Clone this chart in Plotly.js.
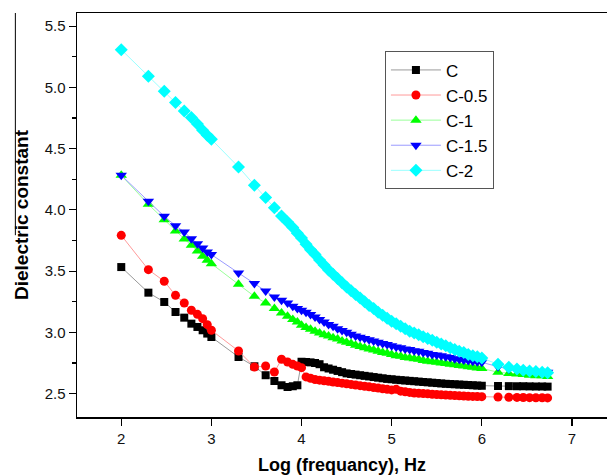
<!DOCTYPE html>
<html>
<head>
<meta charset="utf-8">
<script src="https://cdn.plot.ly/plotly-3.0.1.min.js"></script>
<style>
html,body{margin:0;padding:0;background:#fff;overflow:hidden;}
#chart{width:607px;height:475px;}
</style>
</head>
<body>
<div id="chart"></div>
<script>
// Log (frequency) values shared by all series
const logFreq = [
  2.000, 2.301, 2.477, 2.602, 2.699, 2.778, 2.845, 2.903, 2.954, 3.000,
  3.301, 3.477, 3.602, 3.699, 3.778, 3.845, 3.903, 3.954, 4.000,
  4.05, 4.10, 4.15, 4.20, 4.25, 4.30, 4.35, 4.40, 4.45, 4.50,
  4.55, 4.60, 4.65, 4.70, 4.75, 4.80, 4.85, 4.90, 4.95, 5.00,
  5.05, 5.10, 5.15, 5.20, 5.25, 5.30, 5.35, 5.40, 5.45, 5.50,
  5.55, 5.60, 5.65, 5.70, 5.75, 5.80, 5.85, 5.90, 5.95, 6.00,
  6.18, 6.30, 6.39, 6.46, 6.53, 6.60, 6.67, 6.73
];

const seriesNames = ["C", "C-0.5", "C-1", "C-1.5", "C-2"];

const valC = [
  3.533, 3.324, 3.248, 3.166, 3.120, 3.071, 3.044, 3.017, 2.990, 2.962,
  2.799, 2.723, 2.650, 2.603, 2.568, 2.554, 2.560, 2.568, 2.760,
  2.758, 2.755, 2.750, 2.740, 2.715, 2.705, 2.695, 2.685, 2.675, 2.665,
  2.660, 2.655, 2.650, 2.645, 2.640, 2.635, 2.630, 2.625, 2.620, 2.617,
  2.613, 2.610, 2.607, 2.604, 2.601, 2.598, 2.595, 2.592, 2.589, 2.586,
  2.583, 2.580, 2.578, 2.576, 2.574, 2.572, 2.570, 2.568, 2.566, 2.564,
  2.562, 2.561, 2.560, 2.560, 2.559, 2.558, 2.558, 2.557
];

const valC05 = [
  3.792, 3.512, 3.417, 3.302, 3.240, 3.180, 3.147, 3.112, 3.063, 3.017,
  2.848, 2.717, 2.725, 2.676, 2.780, 2.758, 2.739, 2.725, 2.712,
  2.636, 2.625, 2.615, 2.610, 2.605, 2.600, 2.595, 2.590, 2.585, 2.580,
  2.575, 2.570, 2.565, 2.560, 2.555, 2.550, 2.545, 2.540, 2.535, 2.530,
  2.535, 2.520, 2.515, 2.510, 2.505, 2.502, 2.500, 2.498, 2.495, 2.493,
  2.490, 2.488, 2.486, 2.484, 2.482, 2.480, 2.478, 2.477, 2.476, 2.475,
  2.472, 2.470, 2.469, 2.468, 2.467, 2.466, 2.466, 2.465
];

const valC1 = [
  4.282, 4.045, 3.920, 3.827, 3.762, 3.711, 3.664, 3.621, 3.588, 3.561,
  3.392, 3.294, 3.240, 3.194, 3.158, 3.131, 3.104, 3.084, 3.058,
  3.040, 3.025, 3.010, 2.995, 2.980, 2.970, 2.955, 2.945, 2.930, 2.920,
  2.910, 2.895, 2.885, 2.875, 2.865, 2.855, 2.845, 2.835, 2.830, 2.820,
  2.810, 2.805, 2.795, 2.790, 2.785, 2.780, 2.770, 2.765, 2.760, 2.755,
  2.750, 2.745, 2.740, 2.735, 2.730, 2.725, 2.720, 2.715, 2.710, 2.705,
  2.675, 2.665, 2.660, 2.655, 2.650, 2.645, 2.645, 2.640
];

const valC15 = [
  4.282, 4.070, 3.947, 3.871, 3.819, 3.765, 3.724, 3.689, 3.656, 3.635,
  3.485, 3.398, 3.338, 3.289, 3.262, 3.240, 3.213, 3.194, 3.180,
  3.165, 3.145, 3.125, 3.105, 3.085, 3.065, 3.050, 3.030, 3.015, 3.000,
  2.985, 2.970, 2.960, 2.950, 2.940, 2.930, 2.920, 2.910, 2.900, 2.890,
  2.880, 2.875, 2.865, 2.860, 2.850, 2.845, 2.835, 2.830, 2.820, 2.815,
  2.810, 2.800, 2.795, 2.785, 2.780, 2.775, 2.770, 2.765, 2.760, 2.755,
  2.720, 2.700, 2.695, 2.690, 2.685, 2.680, 2.680, 2.675
];

const valC2 = [
  5.308, 5.090, 4.968, 4.876, 4.807, 4.753, 4.700, 4.650, 4.610, 4.576,
  4.350, 4.200, 4.100, 4.018, 3.950, 3.900, 3.855, 3.810, 3.770,
  3.720, 3.675, 3.635, 3.590, 3.550, 3.510, 3.475, 3.440, 3.405, 3.370,
  3.340, 3.310, 3.280, 3.250, 3.220, 3.195, 3.165, 3.140, 3.115, 3.090,
  3.070, 3.050, 3.030, 3.010, 2.995, 2.980, 2.965, 2.950, 2.935, 2.920,
  2.905, 2.890, 2.875, 2.860, 2.845, 2.835, 2.820, 2.810, 2.800, 2.790,
  2.740, 2.715, 2.700, 2.690, 2.685, 2.680, 2.675, 2.670
];

const yTickVals = [2.5, 3.0, 3.5, 4.0, 4.5, 5.0, 5.5];
const yTickText = ["2.5", "3.0", "3.5", "4.0", "4.5", "5.0", "5.5"];
const xTickVals = [2, 3, 4, 5, 6, 7];

const allValues = [valC, valC05, valC1, valC15, valC2];
const markerColors = ["#000000", "#ff0000", "#00ff00", "#0000ff", "#00ffff"];
const lineColors = ["#9a9a9a", "#ff9a9a", "#9aff9a", "#9a9aff", "#9affff"];
const symbols = ["square", "circle", "triangle-up", "triangle-down", "diamond"];
const sizes = [8, 9, 10, 10, 10];

const traces = allValues.map((vals, i) => ({
  type: "scatter",
  mode: "lines+markers",
  name: seriesNames[i],
  x: logFreq,
  y: vals,
  line: {color: lineColors[i], width: 1},
  marker: {symbol: symbols[i], color: markerColors[i], size: sizes[i], line: {width: 0}}
}));

const font = "Liberation Sans, Arial, sans-serif";

const layout = {
  width: 607,
  height: 475,
  margin: {l: 77, r: 0, t: 13, b: 58},
  paper_bgcolor: "#ffffff",
  plot_bgcolor: "#ffffff",
  showlegend: true,
  font: {family: font, color: "#000000"},
  xaxis: {
    range: [1.509, 7.389],
    tickvals: xTickVals,
    ticks: "outside",
    ticklen: 7,
    tickwidth: 1.2,
    tickcolor: "#000",
    showline: true,
    linecolor: "#000",
    linewidth: 1.5,
    mirror: true,
    showgrid: false,
    zeroline: false,
    tickfont: {size: 15, family: font, color: "#111"},
    title: {text: "<b>Log (frequancy), Hz</b>", font: {size: 18, family: font, color: "#000"}, standoff: 14}
  },
  yaxis: {
    range: [2.309, 5.607],
    tickvals: yTickVals,
    ticktext: yTickText,
    ticks: "outside",
    ticklen: 7,
    tickwidth: 1.2,
    tickcolor: "#000",
    minor: {dtick: 0.25, ticks: "outside", ticklen: 4, tickwidth: 1.2, tickcolor: "#000", showgrid: false},
    showline: true,
    linecolor: "#000",
    linewidth: 1.5,
    mirror: false,
    showgrid: false,
    zeroline: false,
    tickfont: {size: 15, family: font, color: "#111"},
    title: {text: "<b>Dielectric constant</b>", font: {size: 19, family: font, color: "#000"}, standoff: 11}
  },
  legend: {
    x: 0.581, y: 0.905, xanchor: "left", yanchor: "top",
    bgcolor: "#ffffff",
    bordercolor: "#555555",
    borderwidth: 1,
    itemwidth: 50,
    font: {size: 17, family: font, color: "#000"},
    tracegroupgap: 0
  },
  shapes: [
    {type: "line", xref: "paper", yref: "paper", x0: -0.1163, x1: -0.1163, y0: 1.0, y1: 0.45,
     line: {color: "#000", width: 1}}
  ]
};

Plotly.newPlot("chart", traces, layout, {displayModeBar: false, staticPlot: true});
</script>
</body>
</html>
